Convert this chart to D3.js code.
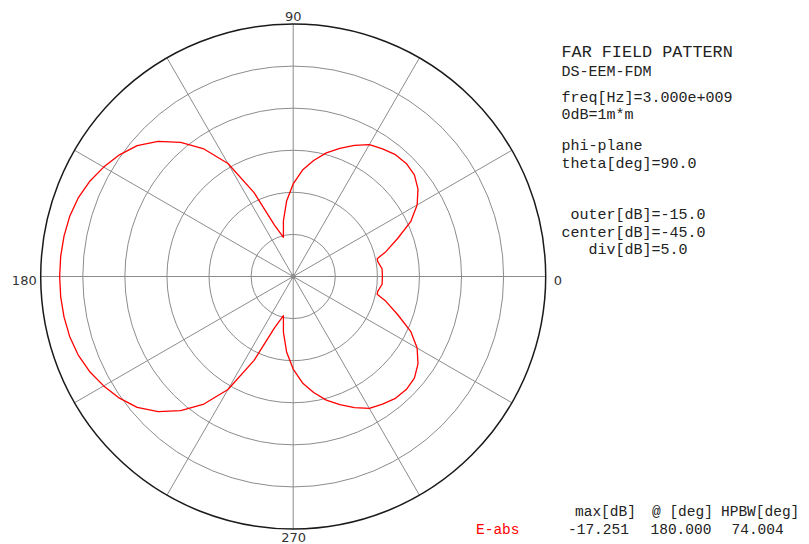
<!DOCTYPE html>
<html>
<head>
<meta charset="utf-8">
<script src="https://cdn.jsdelivr.net/npm/d3@7"></script>
<style>
  html, body { margin: 0; padding: 0; background: #fff; }
  svg { display: block; }
  .mono { font-family: "Liberation Mono", "DejaVu Sans Mono", monospace; white-space: pre; }
</style>
</head>
<body>
<svg id="chart" width="809" height="544"></svg>
<script>
// Far-field pattern, phi-plane cut (theta = 90 deg), E-abs in dB
const phiDeg = [
  0, 5, 10, 12, 15, 20, 25, 30, 35, 40, 45, 50, 55, 60, 65, 70, 75, 80, 85, 90,
  95, 100, 104, 110, 115, 120, 125, 130, 135, 140, 145, 150, 155, 160, 165, 170, 175,
  180, 185, 190, 195, 200, 205, 210, 215, 220, 225, 230, 235, 240, 245, 250, 256,
  260, 265, 270, 275, 280, 285, 290, 295, 300, 305, 310, 315, 320, 325, 330, 335,
  340, 345, 348, 350, 355
];
const eAbsDb = [
  -34.4, -34.4, -34.8, -34.8, -33.6, -31.8, -29.6, -28.0, -26.9, -26.2, -26.0, -26.1, -26.5, -26.9, -27.8, -28.8, -29.8, -31.0, -32.3, -34.0,
  -36.0, -38.3, -40.2, -38.5, -34.0, -29.5, -26.5, -24.2, -22.3, -20.8, -19.8, -19.0, -18.3, -17.8, -17.5, -17.35, -17.27,
  -17.251, -17.27, -17.35, -17.5, -17.8, -18.3, -19.0, -19.8, -20.8, -22.3, -24.2, -26.5, -29.5, -34.0, -38.5, -40.2,
  -38.3, -36.0, -34.0, -32.3, -31.0, -29.8, -28.8, -27.8, -26.9, -26.5, -26.1, -26.0, -26.2, -26.9, -28.0, -29.6,
  -31.8, -33.6, -34.8, -34.8, -34.4
];

// scale settings
const outerDb = -15.0, centerDb = -45.0, divDb = 5.0;
const spokeAngles = [0, 30, 60, 90, 120, 150, 180, 210, 240, 270, 300, 330];
const axisLabels = ["0", "90", "180", "270"];

// header / info text
const infoLines = [
  { text: "FAR FIELD PATTERN", y: 57, size: 16.8 },
  { text: "DS-EEM-FDM", y: 76, size: 15 },
  { text: "freq[Hz]=3.000e+009", y: 101.5, size: 15 },
  { text: "0dB=1m*m", y: 118.5, size: 15 },
  { text: "phi-plane", y: 150, size: 15 },
  { text: "theta[deg]=90.0", y: 168, size: 15 },
  { text: " outer[dB]=-15.0", y: 218.5, size: 15 },
  { text: "center[dB]=-45.0", y: 236.5, size: 15 },
  { text: "   div[dB]=5.0", y: 254, size: 15 }
];
const summaryHeads = ["max[dB]", "@ [deg]", "HPBW[deg]"];
const summaryName = "E-abs";
const summaryVals = ["-17.251", "180.000", "74.004"];

const svg = d3.select("#chart");
const cx = 293.2, cy = 276.5, R = 252.5;
const g = svg.append("g").attr("transform", `translate(${cx},${cy})`);

const r = d3.scaleLinear().domain([centerDb, outerDb]).range([0, R]);
const ringDb = d3.range(centerDb + divDb, outerDb + 0.001, divDb);
// angle for lineRadial: 0 at top, clockwise; phi measured CCW from +x
const toRad = phi => (90 - phi) * Math.PI / 180;

// inner rings
g.selectAll("circle.ring")
  .data(ringDb.slice(0, -1))
  .join("circle")
  .attr("class", "ring")
  .attr("r", d => r(d))
  .attr("fill", "none")
  .attr("stroke", "#8c8c8c")
  .attr("stroke-width", 1);

// spokes
g.selectAll("line.spoke")
  .data(spokeAngles)
  .join("line")
  .attr("class", "spoke")
  .attr("x1", 0).attr("y1", 0)
  .attr("x2", d => R * Math.cos(d * Math.PI / 180))
  .attr("y2", d => -R * Math.sin(d * Math.PI / 180))
  .attr("stroke", "#8c8c8c")
  .attr("stroke-width", 1);

// outer ring
g.append("circle")
  .attr("r", r(outerDb))
  .attr("fill", "none")
  .attr("stroke", "#1a1a1a")
  .attr("stroke-width", 1.5);

// centre dot
g.append("circle").attr("r", 2.5).attr("fill", "#8c8c8c");

// pattern trace
const pts = phiDeg.map((p, i) => [toRad(p), r(Math.max(eAbsDb[i], centerDb))]);
const line = d3.lineRadial().angle(d => d[0]).radius(d => d[1]).curve(d3.curveLinearClosed);
g.append("path")
  .attr("d", line(pts))
  .attr("fill", "none")
  .attr("stroke", "#ff0000")
  .attr("stroke-width", 1.3)
  .attr("stroke-linejoin", "round");

// angle labels
const labelFont = "DejaVu Sans, Verdana, sans-serif";
const labelPos = {
  "0":   { x: cx + R + 8, y: cy + 8.5, anchor: "start" },
  "90":  { x: cx, y: cy - R - 3, anchor: "middle" },
  "180": { x: cx - R - 4, y: cy + 8.5, anchor: "end" },
  "270": { x: cx + 0.5, y: 541.5, anchor: "middle" }
};
svg.selectAll("text.axlab")
  .data(axisLabels)
  .join("text")
  .attr("class", "axlab")
  .attr("x", d => labelPos[d].x)
  .attr("y", d => labelPos[d].y)
  .attr("text-anchor", d => labelPos[d].anchor)
  .attr("font-family", labelFont)
  .attr("font-size", 13)
  .attr("fill", "#333")
  .text(d => d);

// info block
svg.selectAll("text.info")
  .data(infoLines)
  .join("text")
  .attr("class", "info mono")
  .attr("x", 561.5)
  .attr("y", d => d.y)
  .attr("font-size", d => d.size)
  .attr("fill", "#222")
  .text(d => d.text);

// summary table
const headX = [575, 652, 721];
svg.selectAll("text.head")
  .data(summaryHeads)
  .join("text")
  .attr("class", "head mono")
  .attr("x", (d, i) => headX[i])
  .attr("y", 516)
  .attr("font-size", 14.5)
  .attr("fill", "#222")
  .text(d => d);

svg.append("text")
  .attr("class", "mono")
  .attr("x", 476).attr("y", 533.5)
  .attr("font-size", 14.5)
  .attr("fill", "#ff0000")
  .text(summaryName);

const valX = [568, 650.5, 731.5];
svg.selectAll("text.val")
  .data(summaryVals)
  .join("text")
  .attr("class", "val mono")
  .attr("x", (d, i) => valX[i])
  .attr("y", 533.5)
  .attr("font-size", 14.5)
  .attr("fill", "#222")
  .text(d => d);
</script>
</body>
</html>
